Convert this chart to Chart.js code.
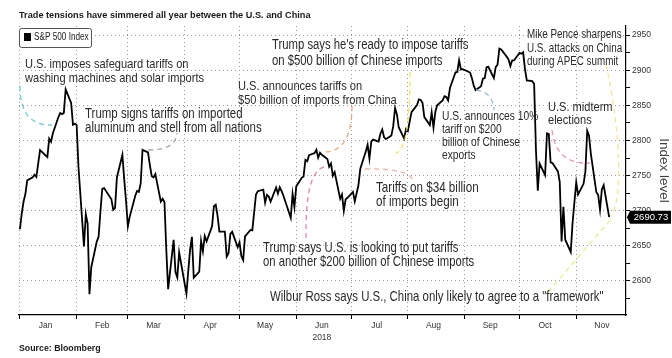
<!DOCTYPE html>
<html><head><meta charset="utf-8">
<script src="https://cdn.jsdelivr.net/npm/chart.js@4/dist/chart.umd.min.js"></script>
<style>html,body{margin:0;padding:0;background:#fff}#wrap{width:672px;height:358px}</style>
</head><body><div id="wrap"><canvas id="c" width="672" height="358"></canvas></div>
<script>
// ---- DATA ----
const seriesName = 'S&P 500 Index';
const year = 2018;
const tradeDates = [
 '01-01','01-02','01-03','01-04','01-05','01-08','01-09','01-10','01-11','01-12','01-16','01-17','01-18','01-19','01-22','01-23','01-24','01-25','01-26','01-29','01-30','01-31',
 '02-01','02-02','02-05','02-06','02-07','02-08','02-09','02-12','02-13','02-14','02-15','02-16','02-20','02-21','02-22','02-23','02-26','02-27','02-28',
 '03-01','03-02','03-05','03-06','03-07','03-08','03-09','03-12','03-13','03-14','03-15','03-16','03-19','03-20','03-21','03-22','03-23','03-26','03-27','03-28','03-29',
 '04-02','04-03','04-04','04-05','04-06','04-09','04-10','04-11','04-12','04-13','04-16','04-17','04-18','04-19','04-20','04-23','04-24','04-25','04-26','04-27','04-30',
 '05-01','05-02','05-03','05-04','05-07','05-08','05-09','05-10','05-11','05-14','05-15','05-16','05-17','05-18','05-21','05-22','05-23','05-24','05-25','05-29','05-30','05-31',
 '06-01','06-04','06-05','06-06','06-07','06-08','06-11','06-12','06-13','06-14','06-15','06-18','06-19','06-20','06-21','06-22','06-25','06-26','06-27','06-28','06-29',
 '07-02','07-03','07-05','07-06','07-09','07-10','07-11','07-12','07-13','07-16','07-17','07-18','07-19','07-20','07-23','07-24','07-25','07-26','07-27','07-30','07-31',
 '08-01','08-02','08-03','08-06','08-07','08-08','08-09','08-10','08-13','08-14','08-15','08-16','08-17','08-20','08-21','08-22','08-23','08-24','08-27','08-28','08-29','08-30','08-31',
 '09-04','09-05','09-06','09-07','09-10','09-11','09-12','09-13','09-14','09-17','09-18','09-19','09-20','09-21','09-24','09-25','09-26','09-27','09-28',
 '10-01','10-02','10-03','10-04','10-05','10-08','10-09','10-10','10-11','10-12','10-15','10-16','10-17','10-18','10-19','10-22','10-23','10-24','10-25','10-26','10-29','10-30','10-31',
 '11-01','11-02','11-05','11-06','11-07','11-08','11-09','11-12','11-13','11-14','11-15','11-16','11-19'
];
const closes = [
 2673.61,2695.81,2713.06,2723.99,2743.15,2747.71,2751.29,2748.23,2767.56,2786.24,2776.42,2802.56,2798.03,2810.30,2832.97,2839.13,2837.54,2839.25,2872.87,2853.53,2822.43,2823.81,
 2821.98,2762.13,2648.94,2695.14,2681.66,2581.00,2619.55,2656.00,2662.94,2698.63,2731.20,2732.22,2716.26,2701.33,2703.96,2747.30,2779.60,2744.28,2713.83,
 2677.67,2691.25,2720.94,2728.12,2726.80,2738.97,2786.57,2783.02,2765.31,2749.48,2747.33,2752.01,2712.92,2716.94,2711.93,2643.69,2588.26,2658.55,2612.62,2605.00,2640.87,
 2581.88,2614.45,2644.69,2662.84,2604.47,2613.16,2656.87,2642.19,2663.99,2656.30,2677.84,2706.39,2708.64,2693.13,2670.14,2670.29,2634.56,2639.40,2666.94,2669.91,2648.05,
 2654.80,2635.67,2629.73,2663.42,2672.63,2671.92,2697.79,2723.07,2727.72,2730.13,2711.45,2722.46,2720.13,2712.97,2733.01,2724.44,2733.29,2727.76,2721.33,2689.86,2724.01,2705.27,
 2734.62,2746.87,2748.80,2772.35,2770.37,2779.03,2782.00,2786.85,2775.63,2782.49,2779.66,2773.75,2762.59,2767.32,2749.76,2754.88,2717.07,2723.06,2699.63,2716.31,2718.37,
 2726.71,2713.22,2736.61,2759.82,2784.17,2793.84,2774.02,2798.29,2801.31,2798.43,2809.55,2815.62,2804.49,2801.83,2806.98,2820.40,2846.07,2837.44,2818.82,2802.60,2816.29,
 2813.36,2827.22,2840.35,2850.40,2858.45,2857.70,2853.58,2833.28,2821.93,2839.96,2818.37,2840.69,2850.13,2857.05,2862.96,2861.82,2856.98,2874.69,2896.74,2897.52,2914.04,2901.13,2901.52,
 2896.72,2888.60,2878.05,2871.68,2877.13,2887.89,2888.92,2904.18,2904.98,2888.80,2904.31,2907.95,2930.75,2929.67,2919.37,2915.56,2905.97,2914.00,2913.98,
 2924.59,2923.43,2925.51,2901.61,2885.57,2884.43,2880.34,2785.68,2728.37,2767.13,2750.79,2809.92,2809.21,2768.78,2767.78,2755.88,2740.69,2656.10,2705.57,2658.69,2641.25,2682.63,2711.74,
 2740.37,2723.06,2738.31,2755.45,2813.89,2806.83,2781.01,2726.22,2722.18,2701.58,2730.20,2736.27,2690.73
];
const monthLabels = ['Jan','Feb','Mar','Apr','May','Jun','Jul','Aug','Sep','Oct','Nov'];
const yearLabelMonth = 'Jun';
const yTickValues = [2575,2600,2625,2650,2675,2700,2725,2750,2775,2800,2825,2850,2875,2900,2925,2950];
const yLabelStep = 50;

// ---- annotations (layout, pixels) ----
const SANS = '"Liberation Sans",Arial,sans-serif';
const NARROW_SCALE = 0.82;
const notes = [
 {x:25,  y:64,    lh:14.6, fs:13.5, lines:['U.S. imposes safeguard tariffs on','washing machines and solar imports']},
 {x:85,  y:113.8, lh:14.5, fs:14,   lines:['Trump signs tariffs on imported','aluminum and stell from all nations']},
 {x:238, y:86,    lh:14.7, fs:13.5, lines:['U.S. announces tariffs on','$50 billion of imports from China']},
 {x:272, y:45.5,  lh:15.5, fs:13.8, lines:["Trump says he's ready to impose tariffs",'on $500 billion of Chinese imports']},
 {x:527, y:35,    lh:13.4, fs:12,   lines:['Mike Pence sharpens','U.S. attacks on China','during APEC summit']},
 {x:548, y:107.3, lh:13.4, fs:13.5, lines:['U.S. midterm','elections']},
 {x:442, y:116.7, lh:12.8, fs:12.5, lines:['U.S. announces 10%','tariff on $200','billion of Chinese','exports']},
 {x:376, y:188.3, lh:14,   fs:14.2, lines:['Tariffs on $34 billion','of imports begin']},
 {x:263, y:248.3, lh:14.4, fs:13.75,lines:['Trump says U.S. is looking to put tariffs','on another $200 billion of Chinese imports']},
 {x:270, y:296.7, lh:14,   fs:13.9, lines:['Wilbur Ross says U.S., China only likely to agree to a "framework"']}
];
const connectors = [
 {color:'rgba(95,200,200,0.9)',  pts:[[20,86],[20,126],[52,125]]},
 {color:'rgba(150,160,170,0.9)', pts:[[148,150],[176,150],[177,133]]},
 {color:'rgba(240,160,110,0.9)', pts:[[352,106],[352,152],[324,152]]},
 {color:'rgba(225,120,170,0.9)', pts:[[324,167],[305,172],[306,238]]},
 {color:'rgba(240,170,160,0.9)', pts:[[365,169],[412,168],[413,182]]},
 {color:'rgba(240,225,80,0.9)',  pts:[[410,72],[410,150],[396,153]]},
 {color:'rgba(140,180,210,0.9)', pts:[[476,90],[493,92],[494,110]]},
 {color:'rgba(230,140,180,0.9)', pts:[[552,130],[556,165],[590,163]]},
 {color:'rgba(240,225,140,0.9)', pts:[[606,64],[622,140],[622,200],[611,216]]},
 {color:'rgba(225,235,130,0.9)', pts:[[548,292],[612,218]]}
];

// ---- derived ----
const dayOf = s => { const [m,d] = s.split('-').map(Number); return (Date.UTC(year,m-1,d)-Date.UTC(year,0,1))/86400000; };
const points = tradeDates.map((s,i)=>({x:dayOf(s), y:closes[i]}));
const monthStartDays = monthLabels.map((_,i)=>(Date.UTC(year,i,1)-Date.UTC(year,0,1))/86400000);
const monthMidDays = monthStartDays.map(d=>d+14);
const labelMap = {}; monthMidDays.forEach((d,i)=>{ labelMap[d] = monthLabels[i]===yearLabelMonth ? [monthLabels[i], String(year)] : monthLabels[i]; });
const gridSet = new Set(monthStartDays);

function narrowText(ctx, t, x, y, size){
 ctx.save(); ctx.translate(x,y); ctx.scale(NARROW_SCALE,1);
 ctx.font = size+'px '+SANS; ctx.fillText(t,0,0); ctx.restore();
}

const decor = {
 id:'decor',
 afterDraw(chart){
  const ctx = chart.ctx; ctx.save();
  ctx.lineWidth = 1.3;
  connectors.forEach(c=>{
   ctx.beginPath(); ctx.setLineDash([5,4]); ctx.strokeStyle = c.color;
   const p = c.pts; ctx.moveTo(p[0][0],p[0][1]);
   if (p.length===2) ctx.lineTo(p[1][0],p[1][1]);
   else if (p.length===3) ctx.quadraticCurveTo(p[1][0],p[1][1],p[2][0],p[2][1]);
   else ctx.bezierCurveTo(p[1][0],p[1][1],p[2][0],p[2][1],p[3][0],p[3][1]);
   ctx.stroke();
  });
  ctx.setLineDash([]);
  ctx.fillStyle = '#2a2a2a'; ctx.textBaseline = 'middle'; ctx.textAlign='left';
  notes.forEach(n=> n.lines.forEach((t,i)=> narrowText(ctx, t, n.x, n.y + i*n.lh, n.fs)));
  // legend box
  const lx=19, ly=28, lw=72, lh=19;
  ctx.fillStyle='#fff'; ctx.strokeStyle='#555'; ctx.lineWidth=1;
  ctx.beginPath(); ctx.roundRect(lx+0.5,ly+0.5,lw,lh,2); ctx.fill(); ctx.stroke();
  ctx.fillStyle='#000'; ctx.fillRect(lx+5, ly+5, 7, 8);
  ctx.fillStyle='#222'; narrowText(ctx, chart.data.datasets[0].label, lx+15, ly+9.5, 10);
  // last value tag
  const ys = chart.scales.y, v = closes[closes.length-1], y = ys.getPixelForValue(v);
  const x0 = chart.chartArea.right;
  ctx.fillStyle='#000';
  ctx.beginPath(); ctx.moveTo(x0+1,y); ctx.lineTo(x0+4,y-6.5); ctx.lineTo(x0+45,y-6.5); ctx.lineTo(x0+45,y+6.5); ctx.lineTo(x0+4,y+6.5); ctx.closePath(); ctx.fill();
  ctx.fillStyle='#fff'; ctx.font='9.5px '+SANS; ctx.textAlign='center';
  ctx.fillText(v.toFixed(2), x0+25, y+0.5);
  ctx.restore();
 }
};

new Chart(document.getElementById('c'), {
 type:'line',
 data:{ datasets:[{ label:seriesName, data:points, borderColor:'#000', borderWidth:1.8, pointRadius:0, tension:0, fill:false }]},
 options:{
  responsive:false, animation:false, events:[],
  layout:{padding:{left:19,right:0,top:0,bottom:0}},
  plugins:{
   legend:{display:false}, tooltip:{enabled:false},
   title:{display:true, text:'Trade tensions have simmered all year between the U.S. and China', align:'start', color:'#1a1a1a',
     font:{family:SANS, size:9.2, weight:'bold', lineHeight:1.2}, padding:{top:10,bottom:4.96}},
   subtitle:{display:true, position:'bottom', align:'start', text:'Source: Bloomberg', color:'#1a1a1a',
     font:{family:SANS, size:8.8, weight:'bold', lineHeight:1}, padding:{top:0,bottom:5.2}}
  },
  scales:{
   x:{ type:'linear', min:-0.5, max:331.2,
     afterBuildTicks: s=>{ s.ticks = [...monthStartDays, ...monthMidDays].sort((a,b)=>a-b).map(v=>({value:v})); },
     ticks:{ autoSkip:false, maxRotation:0, color:'#333', font:{family:SANS,size:8.5,lineHeight:1.4}, padding:1,
       callback: v => labelMap[v] !== undefined ? labelMap[v] : '' },
     grid:{ color: c => (c.tick && gridSet.has(c.tick.value)) ? '#9a9a9a' : 'rgba(0,0,0,0)',
       tickColor: c => (c.tick && gridSet.has(c.tick.value)) ? '#000' : 'rgba(0,0,0,0)', tickLength:4, lineWidth:1 },
     border:{ display:true, color:'#000', width:1.2, dash:[1,3] },
     afterFit: s=>{ s.height = 29; }
   },
   y:{ type:'linear', position:'right', min:2551.5, max:2963,
     afterBuildTicks: s=>{ s.ticks = yTickValues.map(v=>({value:v})); },
     ticks:{ color:'#333', font:{family:SANS,size:8.5}, padding:2, callback: v => v % yLabelStep === 0 ? String(v) : '' },
     grid:{ color: c => (c.tick && c.tick.value % yLabelStep === 0) ? '#9a9a9a' : 'rgba(0,0,0,0)', tickColor:'#000', tickLength:4, lineWidth:1 },
     border:{ display:true, color:'#000', width:1.2, dash:[1,3] },
     title:{ display:true, text:'Index level', color:'#444', font:{family:SANS, size:13.5}, padding:0 },
     afterFit: s=>{ s.width = 46; }
   }
  }
 },
 plugins:[decor]
});
</script></body></html>
